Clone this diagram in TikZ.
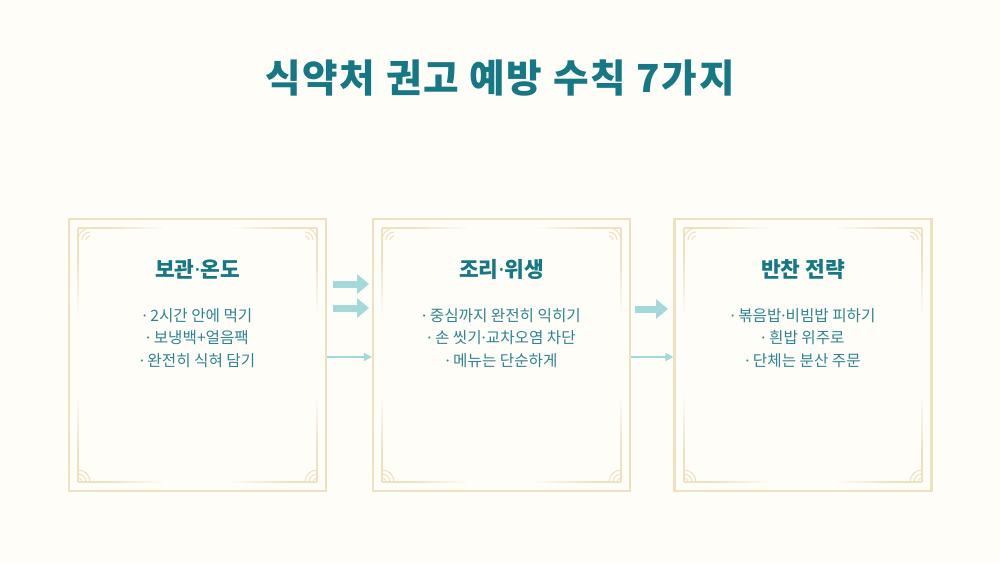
\documentclass[tikz,border=0pt]{standalone}
\usepackage{fontspec}
\setmainfont{Noto Sans CJK KR}
\newfontfamily\titlefont{Noto Sans CJK KR}[LetterSpace=4.5]
\newfontfamily\latindot{Noto Sans}
\usetikzlibrary{arrows.meta}
\usetikzlibrary{shapes}
\definecolor{bgcream}{HTML}{FEFDF8}
\definecolor{framebeige}{HTML}{EDE1BE}
\definecolor{tealdark}{HTML}{167885}
\definecolor{tealtext}{HTML}{2D8592}
\definecolor{tealarrow}{HTML}{A3D9D9}

\newcommand\dt{{\latindot ·}}

% inner frame line that fades away from a corner
\newcommand\fadeline[4]{%
  \draw[trim] (#1,#2) -- ({#1+25*(#3)},{#2+25*(#4)});
  \foreach \k [evaluate=\k as \op using 1-\k/12] in {0,...,11}
    \draw[trim, draw opacity=\op] ({#1+(25+5*\k)*(#3)},{#2+(25+5*\k)*(#4)}) -- ({#1+(30+5*\k)*(#3)},{#2+(30+5*\k)*(#4)});
}

\begin{document}
\begin{tikzpicture}[x=0.2mm, y=-0.2mm,
    card/.style={draw=framebeige, line width=1.2pt, rectangle, minimum width=51.4mm, minimum height=54.4mm, inner sep=0pt},
    trim/.style={draw=framebeige, line width=0.6pt},
    heading/.style={text=tealdark, font=\fontsize{12.2}{14}\selectfont\bfseries},
    bullets/.style={text=tealtext, align=center, font=\fontsize{8.9}{13}\selectfont},
    bigarrow/.style={draw=tealarrow, line width=1.4mm, -{Triangle[length=2.4mm,width=3.8mm]}},
    thinarrow/.style={draw=tealarrow, line width=0.3mm, -{Triangle[length=1.6mm,width=1.6mm]}}]

        \path[use as bounding box, fill=bgcream] (0,0) rectangle (1000,563);

        \node[text=tealdark, font=\titlefont\fontsize{22}{26}\selectfont\bfseries] (T) at (500,78) {식약처 권고 예방 수칙 7가지};

        \node[card] (P1) at (197.5,355) {};

        \node[card] (P2) at (501.5,355) {};

        \node[card] (P3) at (803,355) {};

        % corner trims
        \foreach \l/\r in {78/317, 382/621, 684/922} {
            \fadeline{\l}{228}{1}{0}
            \fadeline{\l}{228}{0}{1}
            \fadeline{\r}{228}{-1}{0}
            \fadeline{\r}{228}{0}{1}
            \fadeline{\l}{482}{1}{0}
            \fadeline{\l}{482}{0}{-1}
            \fadeline{\r}{482}{-1}{0}
            \fadeline{\r}{482}{0}{-1}
            \foreach \p/\rad in {4/0.8mm, 8/1.6mm, 12/2.4mm} {
                \draw[trim] ({\l+12-\p},240) arc[start angle=180, end angle=90, radius=\rad];
                \draw[trim] ({\r-12+\p},240) arc[start angle=0, end angle=90, radius=\rad];
                \draw[trim] ({\l+\p},482) arc[start angle=0, end angle=90, radius=\rad];
                \draw[trim] ({\r-\p},482) arc[start angle=180, end angle=90, radius=\rad];
            }
        }

        \node[heading] (H1) at (197.5,269) {보관\dt 온도};

        \node[heading] (H2) at (501.5,269) {조리\dt 위생};

        \node[heading] (H3) at (803,269) {반찬 전략};

        \node[bullets] (L1) at (197.5,338) {\dt\ 2시간 안에 먹기\\\dt\ 보냉백+얼음팩\\\dt\ 완전히 식혀 담기};

        \node[bullets] (L2) at (501.5,338) {\dt\ 중심까지 완전히 익히기\\\dt\ 손 씻기\dt 교차오염 차단\\\dt\ 메뉴는 단순하게};

        \node[bullets] (L3) at (803,338) {\dt\ 볶음밥\dt 비빔밥 피하기\\\dt\ 흰밥 위주로\\\dt\ 단체는 분산 주문};

        \coordinate (A1s) at (333,284);
        \coordinate (A1e) at (369,284);
        \coordinate (A2s) at (333,308);
        \coordinate (A2e) at (369,308);
        \coordinate (A3s) at (635,309);
        \coordinate (A3e) at (668,309);
        \coordinate (Y) at (0,357);

        \path (A1s) edge[bigarrow] (A1e);
        \path (A2s) edge[bigarrow] (A2e);
        \path (A3s) edge[bigarrow] (A3e);

        \path (P1.east |- Y) edge[thinarrow] (P2.west |- Y);
        \path (P2.east |- Y) edge[thinarrow] (P3.west |- Y);

    \end{tikzpicture}
\end{document}
